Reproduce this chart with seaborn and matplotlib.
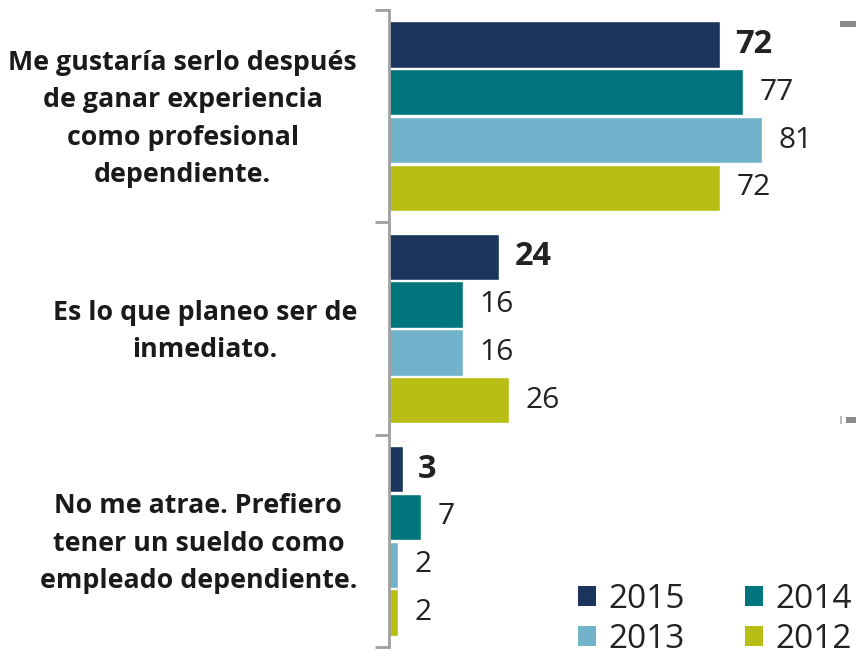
import matplotlib
matplotlib.use("Agg")
import matplotlib.pyplot as plt
import matplotlib.transforms as mtransforms
import seaborn as sns
import pandas as pd
from matplotlib.patches import Patch, Rectangle

categories = [
    "Me gustaría serlo después\nde ganar experiencia\ncomo profesional\ndependiente.",
    "Es lo que planeo ser de\ninmediato.",
    "No me atrae. Prefiero\ntener un sueldo como\nempleado dependiente.",
]
years = ["2015", "2014", "2013", "2012"]
v2015 = [72, 24, 3]
v2014 = [77, 16, 7]
v2013 = [81, 16, 2]
v2012 = [72, 26, 2]
colors = ["#1B355C", "#00767C", "#72B2CA", "#B8BE14"]

series = {"2015": v2015, "2014": v2014, "2013": v2013, "2012": v2012}
rows = []
for y in years:
    for c, v in zip(categories, series[y]):
        rows.append({"cat": c, "year": y, "val": v})
df = pd.DataFrame(rows)

sns.set_style("white")
plt.rcParams["font.family"] = ["Open Sans", "DejaVu Sans"]

W, H = 856, 657
fig = plt.figure(figsize=(W / 100, H / 100), dpi=100)
ax = fig.add_axes([389 / W, 1 - 647 / H, 1 - 389 / W, (647 - 10) / H])

sns.barplot(data=df, y="cat", x="val", hue="year", order=categories,
            hue_order=years, palette=colors, orient="h", width=0.9, gap=0.03,
            ax=ax, legend=False, saturation=1, errorbar=None)

ax.set_xlim(0, (W - 389) / 4.6)
ax.set_ylim(2.5, -0.5)
ax.set_xlabel("")
ax.set_ylabel("")
ax.set_xticks([])

for i, cont in enumerate(ax.containers):
    if i == 0:
        ax.bar_label(cont, padding=11, fontsize=23.5, fontweight="bold", color="#222222")
    else:
        ax.bar_label(cont, padding=12, fontsize=21.5, color="#222222")

# ticks at category boundaries, labels at centers
ax.set_yticks([-0.5, 0.5, 1.5, 2.5])
ax.set_yticklabels([])
ax.set_yticks([0, 1, 2], minor=True)
ax.set_yticklabels(categories, minor=True)
ax.tick_params(axis="y", which="major", length=10, width=2, color="#A0A0A0", left=True)
ax.tick_params(axis="y", which="minor", length=0, pad=23, labelsize=19.3)
shift = mtransforms.ScaledTranslation(0, 0.06, fig.dpi_scale_trans)
for lab in ax.get_yticklabels(minor=True):
    lab.set_fontweight("bold")
    lab.set_multialignment("center")
    lab.set_linespacing(1.58)
    lab.set_color("#1a1a1a")
    lab.set_transform(lab.get_transform() + shift)

for s in ["top", "right", "bottom"]:
    ax.spines[s].set_visible(False)
ax.spines["left"].set_color("#A0A0A0")
ax.spines["left"].set_linewidth(2)

order = [0, 2, 1, 3]
handles = [Patch(facecolor=colors[i], edgecolor="none", label=years[i]) for i in order]
fig.legend(handles=handles, ncol=2, loc="lower right", bbox_to_anchor=(1.03, -0.044),
           frameon=False, fontsize=24, handlelength=0.55, handleheight=0.55,
           handletextpad=0.36, columnspacing=1.8, labelspacing=0.22, labelcolor="#222222")

# small grey decorative fragments at the right edge
fig.patches.append(Rectangle((840 / W, 1 - 27 / H), 16 / W, 6 / H, transform=fig.transFigure,
                             facecolor="#8A8A8A", edgecolor="none"))
fig.patches.append(Rectangle((846 / W, 1 - 423 / H), 10 / W, 6 / H, transform=fig.transFigure,
                             facecolor="#8A8A8A", edgecolor="none"))
fig.patches.append(Rectangle((840 / W, 1 - 424 / H), 1.5 / W, 8 / H, transform=fig.transFigure,
                             facecolor="#BBBBBB", edgecolor="none"))

fig.savefig("out.png", dpi=100)
